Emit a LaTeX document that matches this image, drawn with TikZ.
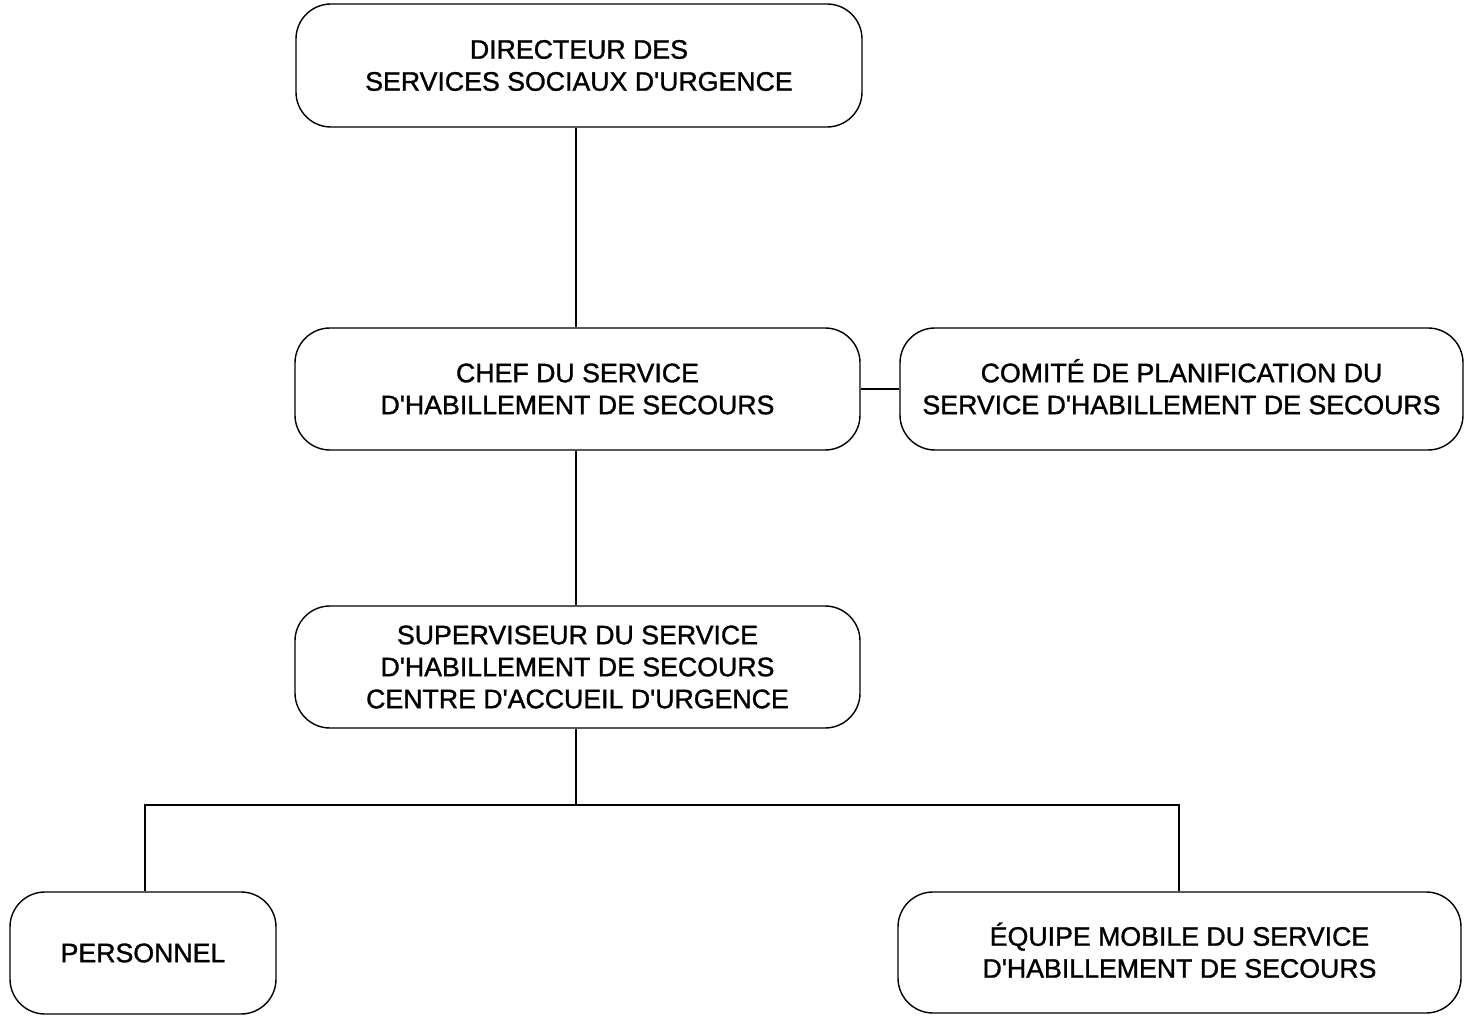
\documentclass[tikz,border=0pt]{standalone}
\usepackage{fontspec}
\newfontfamily\orgfont{Liberation Sans}[FakeBold=1.2]
\begin{document}
\begin{tikzpicture}[x=0.02cm,y=-0.02cm,
  box/.style={draw, line width=0.8pt, rounded corners=0.7cm, align=center, inner sep=0pt,
    font=\orgfont\fontsize{15.2}{18.2}\selectfont},
  link/.style={line width=0.8pt}]
\useasboundingbox (0,0) rectangle (1464,1016);
\node[box, minimum width=566*0.02cm, minimum height=123*0.02cm] (dir) at (579,65.5) {DIRECTEUR DES\\SERVICES SOCIAUX D'URGENCE};
\node[box, minimum width=565*0.02cm, minimum height=122*0.02cm] (chef) at (577.5,389) {CHEF DU SERVICE\\D'HABILLEMENT DE SECOURS};
\node[box, minimum width=563*0.02cm, minimum height=122*0.02cm] (comite) at (1181.5,389) {COMIT\smash{É} DE PLANIFICATION DU\\SERVICE D'HABILLEMENT DE SECOURS};
\node[box, minimum width=565*0.02cm, minimum height=122*0.02cm] (sup) at (577.5,667) {SUPERVISEUR DU SERVICE\\D'HABILLEMENT DE SECOURS\\CENTRE D'ACCUEIL D'URGENCE};
\node[box, minimum width=266*0.02cm, minimum height=122*0.02cm] (pers) at (143,953) {PERSONNEL};
\node[box, minimum width=563*0.02cm, minimum height=121*0.02cm] (equipe) at (1179.5,952.5) {\smash{É}QUIPE MOBILE DU SERVICE\\D'HABILLEMENT DE SECOURS};
\coordinate (j) at (576,805);
\draw[link] (dir.south -| j) -- (chef.north -| j);
\draw[link] (chef.south -| j) -- (sup.north -| j);
\draw[link] (chef.east) -- (comite.west);
\draw[link] (sup.south -| j) -- (j);
\draw[link] (pers.north -| 145,0) |- (j) -| (equipe.north -| 1179,0);
\end{tikzpicture}
\end{document}
